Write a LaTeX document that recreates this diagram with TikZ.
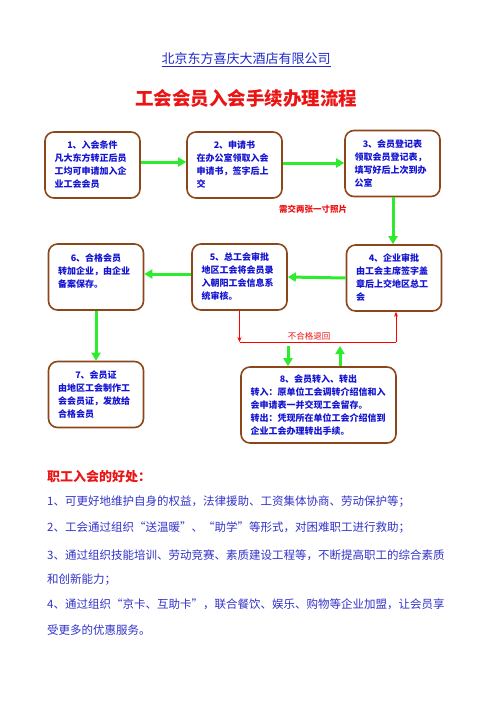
\documentclass[tikz,border=0pt]{standalone}
\usepackage{fontspec}
\setmainfont{Noto Sans CJK SC}
\usetikzlibrary{arrows.meta}
\definecolor{boxbrown}{RGB}{140, 70, 25}
\definecolor{flowgreen}{RGB}{45, 235, 45}
\definecolor{boxblue}{RGB}{20, 20, 210}
\definecolor{bodyblue}{RGB}{50, 50, 200}
\definecolor{titleblue}{RGB}{30, 40, 200}
\definecolor{titlered}{RGB}{235, 20, 20}
\newcommand{\stephead}[1]{\makebox[\hsize]{#1}\\}
\tikzstyle{stepbox} = [
  draw=boxbrown,
  line width=1.6pt,
  rounded corners=9pt,
  fill=white,
  text=boxblue,
  font=\bfseries\fontsize{9}{13}\selectfont,
  text width=76pt,
  align=left,
  inner xsep=9.5pt,
  minimum height=66pt,
]
\tikzstyle{flow} = [
  draw=flowgreen,
  line width=3pt,
  -{Triangle[length=8pt, width=9pt]},
]
\tikzstyle{retline} = [
  draw=red,
  line width=0.8pt,
]
\tikzstyle{bodyline} = [
  anchor=west,
  inner sep=0pt,
  text=bodyblue,
  font=\fontsize{11.5}{11.5}\selectfont,
]

\begin{document}
\begin{tikzpicture}[x=1pt, y=-1pt]
            \useasboundingbox (0,0) rectangle (496,702);

            % Titles
            \node[text=titleblue, font=\fontsize{13}{13}\selectfont] (company) at (246,60) {\underline{北京东方喜庆大酒店有限公司}};
            \node[text=titlered, font=\bfseries\fontsize{18.5}{18.5}\selectfont] (title) at (246,99) {工会会员入会手续办理流程};

            % Steps
            \node[stepbox] (S1) at (92.5,165) {\stephead{1、入会条件}凡大东方转正后员\\工均可申请加入企\\业工会会员};
            \node[stepbox] (S2) at (234.5,165) {\stephead{2、申请书}在办公室领取入会\\申请书，签字后上\\交};
            \node[stepbox] (S3) at (392.5,163.5) {\stephead{3、会员登记表}领取会员登记表，\\填写好后上次到办\\公室};
            \node[stepbox] (S4) at (394,278) {\stephead{4、企业审批}由工会主席签字盖\\章后上交地区总工\\会};
            \node[stepbox] (S5) at (239.5,277) {\stephead{5、总工会审批}地区工会将会员录\\入朝阳工会信息系\\统审核。};
            \node[stepbox] (S6) at (96,277) {\stephead{6、合格会员}转加企业，由企业\\备案保存。\\\mbox{}};
            \node[stepbox] (S7) at (96,394.5) {\stephead{7、会员证}由地区工会制作工\\会会员证，发放给\\合格会员};
            \node[stepbox, text width=136pt, minimum height=76pt] (S8) at (318.5,405) {\stephead{8、会员转入、转出}转入：原单位工会调转介绍信和入\\会申请表一并交现工会留存。\\转出：凭现所在单位工会介绍信到\\企业工会办理转出手续。};

            % Green arrows
            \draw[flow] ([yshift=3pt]S1.east) -- ([yshift=3pt]S2.west);
            \draw[flow] ([yshift=2pt]S2.east) -- ([yshift=2pt]S2.east -| S3.west);
            \draw[flow] (S3.south -| 393,0) -- (S4.north -| 393,0);
            \draw[flow] (S4.west) -- (S5.east);
            \draw[flow] ([yshift=3pt]S5.west) -- ([yshift=3pt]S6.east);
            \draw[flow] (S6.south) -- (S7.north);

            % Sent back when not qualified
            \coordinate (retL) at (S5.south |- 0,342);
            \coordinate (retR) at (396,342);
            \draw[retline, -{Stealth[length=5pt, width=4pt]}] (S5.south) -- (retL);
            \draw[retline] (retL) -- (retR);
            \draw[retline, -{Stealth[length=5pt, width=4pt]}] (retR) -- (retR |- S4.south);

            % Transfer in and out
            \coordinate (inTop) at (288,346);
            \coordinate (outTop) at (340,346);
            \draw[flow] (inTop) -- (inTop |- S8.north);
            \draw[flow] (outTop |- S8.north) -- (outTop);

            % Labels
            \node[text=titlered, font=\bfseries\fontsize{8.5}{8.5}\selectfont] (photo) at (313,209) {需交两张一寸照片};
            \node[text=titlered, font=\fontsize{8.5}{8.5}\selectfont, inner sep=1pt] (retlabel) at (309,336.5) {不合格退回};

            % Benefits
            \node[anchor=west, inner sep=0pt, text=titlered, font=\bfseries\fontsize{13}{13}\selectfont] (benefit) at (47,477) {职工入会的好处：};
            \node[bodyline] (B1) at (47,502) {1、可更好地维护自身的权益，法律援助、工资集体协商、劳动保护等；};
            \node[bodyline] (B2) at (47,528) {2、工会通过组织“送温暖”、“助学”等形式，对困难职工进行救助；};
            \node[bodyline] (B3) at (47,555) {3、通过组织技能培训、劳动竞赛、素质建设工程等，不断提高职工的综合素质};
            \node[bodyline] (B3b) at (47,580) {和创新能力；};
            \node[bodyline] (B4) at (47,604) {4、通过组织“京卡、互助卡”，联合餐饮、娱乐、购物等企业加盟，让会员享};
            \node[bodyline] (B4b) at (47,630) {受更多的优惠服务。};
          \end{tikzpicture}
\end{document}
